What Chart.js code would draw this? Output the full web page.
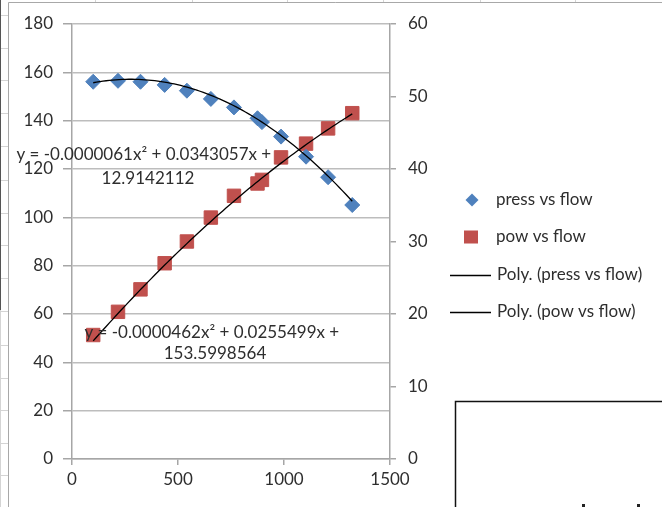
<!DOCTYPE html>
<html>
<head>
<meta charset="utf-8">
<script src="https://cdn.jsdelivr.net/npm/chart.js@4.4.1/dist/chart.umd.min.js"></script>
<style>
  html, body { margin: 0; padding: 0; background: #fff; }
  #wrap { width: 662px; height: 507px; position: relative; overflow: hidden; }
  canvas { display: block; }
</style>
</head>
<body>
<div id="wrap"><canvas id="c" width="662" height="507"></canvas></div>
<script>
// Flow readings (x), shared by both series
const flow  = [100, 217, 323, 437, 542, 655, 764, 875, 896, 986, 1104, 1208, 1322];
// Pressure at each flow (left axis)
const press = [156.1, 156.5, 156.1, 154.8, 152.4, 149.0, 145.5, 141.0, 139.4, 133.4, 125.1, 116.6, 105.1];
// Power at each flow (right axis)
const pow   = [17.1, 20.3, 23.4, 27.0, 30.0, 33.3, 36.3, 38.0, 38.5, 41.6, 43.5, 45.6, 47.7];

// Second-order trendline coefficients [a, b, c] for y = a·x² + b·x + c
const pressFit = [-0.0000462, 0.0255499, 153.5998564];
const powFit   = [-0.0000061, 0.0343057, 12.9142112];

// Tick labels
const xTicks      = [0, 500, 1000, 1500];
const yLeftTicks  = [0, 20, 40, 60, 80, 100, 120, 140, 160, 180];
const yRightTicks = [0, 10, 20, 30, 40, 50, 60];

const seriesNames = ['press vs flow', 'pow vs flow', 'Poly. (press vs flow)', 'Poly. (pow vs flow)'];

const BLUE = '#4F81BD';
const RED = '#C0504D';
const TEXT = '#2e2e2e';
const FONT_FAMILY = 'Lato, "Open Sans", sans-serif';
const FONT_SIZE = 17;

const toPoints = (xs, ys) => xs.map((x, i) => ({ x, y: ys[i] }));

// Sample a quadratic trendline across the span of the measured flows
function trendPoints(coef, xs) {
  const x0 = Math.min(...xs), x1 = Math.max(...xs);
  const pts = [];
  const n = 80;
  for (let i = 0; i <= n; i++) {
    const x = x0 + (x1 - x0) * i / n;
    pts.push({ x, y: coef[0] * x * x + coef[1] * x + coef[2] });
  }
  return pts;
}

function equationLines(coef) {
  const f = v => v.toFixed(7);
  const b = coef[1] < 0 ? ' - ' + f(-coef[1]) : ' + ' + f(coef[1]);
  return ['y = ' + f(coef[0]) + 'x\u00B2' + b + 'x + ', f(coef[2])];
}

// Spreadsheet backdrop and chart frame
const backdrop = {
  id: 'backdrop',
  beforeDraw(chart) {
    const ctx = chart.ctx;
    ctx.save();
    ctx.fillStyle = '#fff';
    ctx.fillRect(0, 0, chart.width, chart.height);
    // cell gridlines left of the frame
    ctx.strokeStyle = '#d4d4d4';
    ctx.lineWidth = 1;
    [15, 48, 80, 113, 146, 180, 213, 245, 278, 311, 345, 378, 410, 443, 475].forEach(y => {
      ctx.beginPath(); ctx.moveTo(0, y + 0.5); ctx.lineTo(8, y + 0.5); ctx.stroke();
    });
    // cell gridlines above the frame
    [95, 192, 287, 383, 480, 575].forEach(x => {
      ctx.beginPath(); ctx.moveTo(x + 0.5, 0); ctx.lineTo(x + 0.5, 2); ctx.stroke();
    });
    // dark cell border at far left
    ctx.strokeStyle = '#555';
    ctx.beginPath(); ctx.moveTo(0.5, 0); ctx.lineTo(0.5, 310); ctx.stroke();
    ctx.strokeStyle = '#d4d4d4';
    ctx.beginPath(); ctx.moveTo(0.5, 310); ctx.lineTo(0.5, 507); ctx.stroke();
    // chart frame
    ctx.strokeStyle = '#a8a8a8';
    ctx.beginPath();
    ctx.moveTo(8.5, 507); ctx.lineTo(8.5, 2.5); ctx.lineTo(662, 2.5);
    ctx.stroke();
    ctx.restore();
  },
  afterDraw(chart) {
    const ctx = chart.ctx;
    ctx.save();
    // neighbouring shape in the lower right
    ctx.strokeStyle = '#111';
    ctx.lineWidth = 1.5;
    ctx.beginPath();
    ctx.moveTo(455.5, 507); ctx.lineTo(455.5, 401.5); ctx.lineTo(662, 401.5);
    ctx.stroke();
    ctx.fillStyle = '#222';
    ctx.fillRect(582, 504, 3, 3);
    ctx.fillRect(637, 504, 3, 3);
    ctx.restore();
  }
};

// Trendline equation labels
const equations = {
  id: 'equations',
  afterDraw(chart) {
    const ctx = chart.ctx;
    ctx.save();
    ctx.font = FONT_SIZE + 'px ' + FONT_FAMILY;
    ctx.fillStyle = TEXT;
    ctx.textAlign = 'center';
    ctx.textBaseline = 'middle';
    const a = equationLines(powFit);
    ctx.fillText(a[0], 146, 155);
    ctx.fillText(a[1], 148, 179);
    const b = equationLines(pressFit);
    ctx.fillText(b[0], 214, 333);
    ctx.fillText(b[1], 215, 354);
    ctx.restore();
  }
};

// Legend on the right
const sideLegend = {
  id: 'sideLegend',
  afterDraw(chart) {
    const ctx = chart.ctx;
    const rows = [200, 237, 275, 312];
    ctx.save();
    ctx.font = FONT_SIZE + 'px ' + FONT_FAMILY;
    ctx.fillStyle = TEXT;
    ctx.textAlign = 'left';
    ctx.textBaseline = 'middle';
    chart.data.datasets.forEach((ds, i) => {
      const y = rows[i];
      ctx.save();
      if (i === 0) {
        ctx.fillStyle = BLUE;
        ctx.beginPath();
        ctx.moveTo(472, y - 6.5); ctx.lineTo(478.5, y); ctx.lineTo(472, y + 6.5); ctx.lineTo(465.5, y);
        ctx.closePath(); ctx.fill();
      } else if (i === 1) {
        ctx.fillStyle = RED;
        ctx.fillRect(464, y - 6.5, 14, 13);
      } else {
        ctx.strokeStyle = '#000';
        ctx.lineWidth = 1.3;
        ctx.beginPath(); ctx.moveTo(450, y + 0.5); ctx.lineTo(491, y + 0.5); ctx.stroke();
      }
      ctx.restore();
      ctx.fillText(ds.label, i < 2 ? 496 : 497, y);
    });
    ctx.restore();
  }
};

const tickFont = { family: FONT_FAMILY, size: FONT_SIZE };
const plainNumber = v => String(v);

new Chart(document.getElementById('c'), {
  type: 'scatter',
  data: {
    datasets: [
      {
        label: seriesNames[0],
        data: toPoints(flow, press),
        yAxisID: 'y',
        pointStyle: 'rectRot',
        pointRadius: 7.5,
        backgroundColor: BLUE,
        borderColor: BLUE,
        borderWidth: 1,
        order: 1
      },
      {
        label: seriesNames[1],
        data: toPoints(flow, pow),
        yAxisID: 'y2',
        pointStyle: 'rect',
        pointRadius: 9.5,
        backgroundColor: RED,
        borderColor: RED,
        borderWidth: 1,
        order: 1
      },
      {
        label: seriesNames[2],
        data: trendPoints(pressFit, flow),
        yAxisID: 'y',
        showLine: true,
        borderColor: '#000',
        borderWidth: 1.3,
        pointRadius: 0,
        pointHoverRadius: 0,
        fill: false,
        order: 0
      },
      {
        label: seriesNames[3],
        data: trendPoints(powFit, flow),
        yAxisID: 'y2',
        showLine: true,
        borderColor: '#000',
        borderWidth: 1.3,
        pointRadius: 0,
        pointHoverRadius: 0,
        fill: false,
        order: 0
      }
    ]
  },
  options: {
    responsive: false,
    animation: false,
    devicePixelRatio: 1,
    layout: { padding: { left: 0, right: 0, top: 24, bottom: 0 } },
    plugins: {
      legend: { display: false },
      tooltip: { enabled: false }
    },
    scales: {
      x: {
        type: 'linear',
        position: 'bottom',
        min: xTicks[0],
        max: xTicks[xTicks.length - 1],
        afterBuildTicks: s => { s.ticks = xTicks.map(v => ({ value: v })); },
        afterFit: s => { s.height = 48; },
        grid: { drawOnChartArea: false, drawTicks: true, tickLength: 6, color: '#a6a6a6', lineWidth: 1.5 },
        border: { display: true, color: '#a6a6a6', width: 1.5 },
        ticks: { font: tickFont, color: TEXT, padding: 4, maxRotation: 0, autoSkip: false, callback: plainNumber }
      },
      y: {
        type: 'linear',
        position: 'left',
        min: yLeftTicks[0],
        max: yLeftTicks[yLeftTicks.length - 1],
        afterBuildTicks: s => { s.ticks = yLeftTicks.map(v => ({ value: v })); },
        afterFit: s => { s.width = 72; },
        grid: { color: '#bdbdbd', lineWidth: 1.5, tickLength: 9, tickColor: '#a6a6a6' },
        border: { display: true, color: '#a6a6a6', width: 1.5 },
        ticks: { font: tickFont, color: TEXT, padding: 10, autoSkip: false, callback: plainNumber }
      },
      y2: {
        type: 'linear',
        position: 'right',
        min: yRightTicks[0],
        max: yRightTicks[yRightTicks.length - 1],
        afterBuildTicks: s => { s.ticks = yRightTicks.map(v => ({ value: v })); },
        afterFit: s => { s.width = 272; },
        grid: { drawOnChartArea: false, drawTicks: true, tickLength: 6, color: '#a6a6a6', lineWidth: 1.5 },
        border: { display: true, color: '#a6a6a6', width: 1.5 },
        ticks: { font: tickFont, color: TEXT, padding: 12, autoSkip: false, callback: plainNumber }
      }
    }
  },
  plugins: [backdrop, equations, sideLegend]
});
</script>
</body>
</html>
